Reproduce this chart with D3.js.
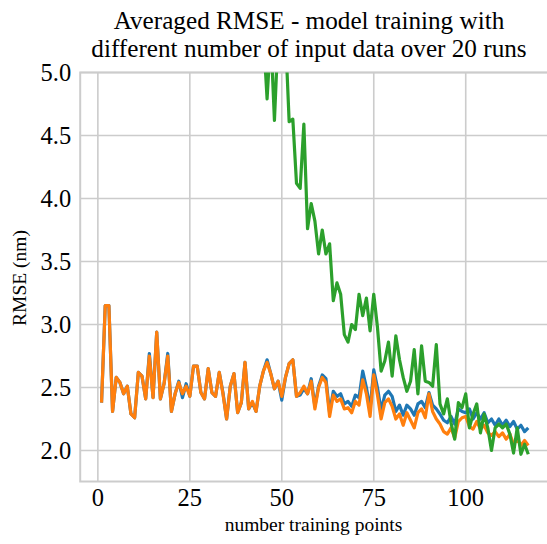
<!DOCTYPE html>
<html>
<head>
<meta charset="utf-8">
<title>Averaged RMSE</title>
<script src="https://cdn.jsdelivr.net/npm/d3@7"></script>
<style>
    body { margin: 0; background: white; }
    svg text { font-family: "Liberation Serif", "Times New Roman", "DejaVu Serif", serif; fill: #000; }
</style>
</head>
<body>
<div id="chart"></div>
<script>
// x values are the number of training points (1..117)
const orangeVals = [2.38, 3.15, 3.15, 2.31, 2.58, 2.54, 2.45, 2.51, 2.29, 2.26,
    2.62, 2.59, 2.41, 2.75, 2.42, 2.94, 2.41, 2.53, 2.75, 2.31,
    2.45, 2.54, 2.45, 2.51, 2.43, 2.67, 2.67, 2.46, 2.41, 2.65,
    2.46, 2.43, 2.62, 2.45, 2.25, 2.51, 2.61, 2.30, 2.38, 2.70,
    2.33, 2.39, 2.31, 2.51, 2.63, 2.70, 2.61, 2.49, 2.55, 2.43,
    2.58, 2.69, 2.72, 2.43, 2.46, 2.51, 2.45, 2.55, 2.33, 2.50,
    2.58, 2.54, 2.27, 2.44, 2.39, 2.41, 2.33, 2.34, 2.30, 2.39,
    2.36, 2.56, 2.45, 2.27, 2.60, 2.44, 2.25, 2.38, 2.41, 2.35,
    2.25, 2.29, 2.20, 2.30, 2.24, 2.18, 2.30, 2.33, 2.26, 2.45,
    2.31, 2.25, 2.21, 2.15, 2.13, 2.18, 2.10, 2.23, 2.26, 2.27,
    2.19, 2.17, 2.23, 2.17, 2.20, 2.14, 2.12, 2.15, 2.11, 2.14,
    2.09, 2.13, 2.05, 2.09, 2.04, 2.08, 2.04];

const blueVals = [2.38, 3.15, 3.15, 2.31, 2.58, 2.54, 2.45, 2.51, 2.29, 2.26,
    2.62, 2.59, 2.41, 2.77, 2.42, 2.94, 2.41, 2.53, 2.77, 2.31,
    2.45, 2.55, 2.42, 2.53, 2.43, 2.67, 2.67, 2.46, 2.41, 2.65,
    2.46, 2.43, 2.62, 2.46, 2.25, 2.51, 2.61, 2.30, 2.38, 2.70,
    2.33, 2.38, 2.31, 2.51, 2.63, 2.72, 2.61, 2.49, 2.55, 2.40,
    2.58, 2.69, 2.72, 2.43, 2.44, 2.49, 2.45, 2.57, 2.35, 2.51,
    2.60, 2.57, 2.30, 2.47, 2.43, 2.45, 2.37, 2.39, 2.35, 2.44,
    2.42, 2.63, 2.50, 2.33, 2.64, 2.50, 2.32, 2.44, 2.47, 2.43,
    2.31, 2.36, 2.28, 2.36, 2.33, 2.28, 2.37, 2.39, 2.34, 2.46,
    2.36, 2.33, 2.29, 2.24, 2.22, 2.27, 2.21, 2.33, 2.31, 2.30,
    2.33, 2.25, 2.30, 2.25, 2.30, 2.22, 2.25, 2.20, 2.25, 2.20,
    2.24, 2.19, 2.23, 2.17, 2.20, 2.15, 2.18];

// green starts at 45 training points (earlier values are above the axis)
const greenStart = 45;
const greenVals = [5.3, 4.79, 5.3, 4.62, 5.3, 5.3, 5.3, 4.61, 4.63, 4.12,
    4.08, 4.59, 3.76, 3.96, 3.82, 3.56, 3.75, 3.56, 3.64, 3.19,
    3.33, 3.24, 2.92, 2.86, 3.00, 2.96, 3.24, 3.07, 3.21, 2.95,
    3.24, 2.98, 2.63, 2.71, 2.86, 2.59, 2.91, 2.72, 2.58, 2.47,
    2.55, 2.80, 2.45, 2.83, 2.55, 2.54, 2.51, 2.84, 2.37, 2.29,
    2.41, 2.22, 2.09, 2.38, 2.34, 2.45, 2.18, 2.29, 2.37, 2.14,
    2.29, 2.18, 2.00, 2.18, 2.21, 2.18, 2.21, 2.13, 1.98, 2.18,
    1.97, 2.05, 1.97];

const xTicks = [0, 25, 50, 75, 100];
const yTicks = [2.0, 2.5, 3.0, 3.5, 4.0, 4.5, 5.0];

const width = 547, height = 544;
const plotLeft = 80.2, plotRight = 549.6, plotTop = 72.5, plotBottom = 481.5;

const svg = d3.select("#chart").append("svg")
    .attr("width", width)
    .attr("height", height);

const x = d3.scaleLinear().domain([-4.8, 122.8]).range([plotLeft, plotRight]);
const y = d3.scaleLinear().domain([1.754, 5.0]).range([plotBottom, plotTop]);

svg.append("defs").append("clipPath").attr("id", "plotClip")
    .append("rect")
    .attr("x", plotLeft).attr("y", plotTop)
    .attr("width", plotRight - plotLeft).attr("height", plotBottom - plotTop);

// grid
svg.append("g")
    .selectAll("line")
    .data(xTicks)
    .join("line")
    .attr("x1", d => x(d)).attr("x2", d => x(d))
    .attr("y1", plotTop).attr("y2", plotBottom)
    .attr("stroke", "#cccccc").attr("stroke-width", 1.6);

svg.append("g")
    .selectAll("line")
    .data(yTicks)
    .join("line")
    .attr("x1", plotLeft).attr("x2", plotRight)
    .attr("y1", d => y(d)).attr("y2", d => y(d))
    .attr("stroke", "#cccccc").attr("stroke-width", 1.6);

// frame
svg.append("rect")
    .attr("x", plotLeft).attr("y", plotTop)
    .attr("width", plotRight - plotLeft).attr("height", plotBottom - plotTop)
    .attr("fill", "none")
    .attr("stroke", "#cccccc").attr("stroke-width", 2);

const line = d3.line()
    .x(d => x(d[0]))
    .y(d => y(d[1]));

const series = [
    { color: "#1f77b4", pts: blueVals.map((v, i) => [i + 1, v]) },
    { color: "#ff7f0e", pts: orangeVals.map((v, i) => [i + 1, v]) },
    { color: "#2ca02c", pts: greenVals.map((v, i) => [greenStart + i, v]) }
];

svg.append("g")
    .attr("clip-path", "url(#plotClip)")
    .selectAll("path")
    .data(series)
    .join("path")
    .attr("d", d => line(d.pts))
    .attr("fill", "none")
    .attr("stroke", d => d.color)
    .attr("stroke-width", 3.2)
    .attr("stroke-linejoin", "round");

// tick labels
svg.append("g")
    .selectAll("text")
    .data(yTicks)
    .join("text")
    .attr("x", plotLeft - 9)
    .attr("y", d => y(d))
    .attr("dy", "0.35em")
    .attr("text-anchor", "end")
    .style("font-size", "24.5px")
    .text(d => d.toFixed(1));

svg.append("g")
    .selectAll("text")
    .data(xTicks)
    .join("text")
    .attr("x", d => x(d))
    .attr("y", 506)
    .attr("text-anchor", "middle")
    .style("font-size", "24.5px")
    .text(d => d);

// axis labels
svg.append("text")
    .attr("x", 313.5)
    .attr("y", 531)
    .attr("text-anchor", "middle")
    .style("font-size", "19.5px")
    .text("number training points");

svg.append("text")
    .attr("transform", "translate(26,278) rotate(-90)")
    .attr("text-anchor", "middle")
    .style("font-size", "19.5px")
    .text("RMSE (nm)");

// title
const title = svg.append("text")
    .attr("text-anchor", "middle")
    .style("font-size", "25.2px");
title.append("tspan").attr("x", 309).attr("y", 29)
    .text("Averaged RMSE - model training with");
title.append("tspan").attr("x", 309).attr("y", 57)
    .text("different number of input data over 20 runs");
</script>
</body>
</html>
